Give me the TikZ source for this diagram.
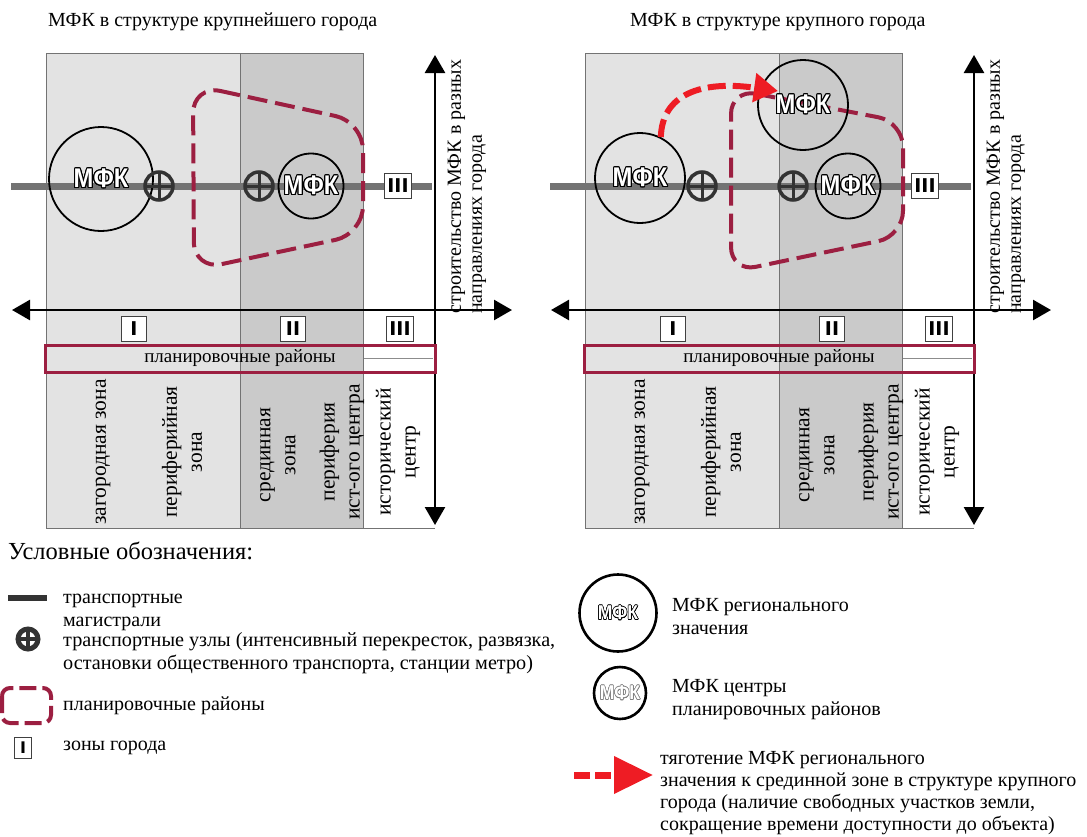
\documentclass[tikz,border=0pt]{standalone}
\usepackage{fontspec}
\setmainfont{Liberation Serif}
\newfontfamily\mfkfont{Liberation Sans}
\newfontfamily\rimfont{DejaVu Sans}
\usepackage{graphicx}
\usepackage[copies]{contour}
\contourlength{1.2pt}
\usetikzlibrary{arrows.meta, positioning}
\usepackage{xcolor}

\definecolor{zonaSvet}{HTML}{E3E3E3}
\definecolor{zonaTemn}{HTML}{CACACA}
\definecolor{rajonKr}{HTML}{9C1F41}
\definecolor{magistral}{HTML}{737373}
\definecolor{uzelC}{HTML}{333333}
\definecolor{tyagKr}{HTML}{EE1C24}

\newcommand{\mfk}{\scalebox{0.88}[1]{\contour{black}{МФК}}}
\newcommand{\mfkmal}[1]{{\contourlength{0.6pt}\scalebox{0.88}[1]{\contour{#1}{МФК}}}}

\begin{document}
\begin{tikzpicture}[
    x=1pt, y=-1pt,
    every node/.style={font=\fontsize{20}{23}\selectfont},
    tekst/.style={anchor=west, align=left, inner sep=0pt},
    ramka/.style={draw=black!55, line width=0.8pt},
    os/.style={
        {Triangle[length=18pt,width=20pt]}-{Triangle[length=18pt,width=20pt]},
        line width=2.6pt
    },
    magistr/.style={draw=magistral, line width=7pt},
    mfkreg/.style={
        circle,
        draw,
        line width=1.8pt,
        minimum size=104pt,
        inner sep=0pt,
        text=white,
        font=\mfkfont\bfseries\fontsize{27}{27}\selectfont
    },
    mfkcentr/.style={mfkreg, minimum size=65pt},
    uzel/.style={
        circle,
        draw=uzelC,
        line width=3.5pt,
        minimum size=28pt,
        inner sep=0pt,
        path picture={
            \draw[uzelC, line width=3pt]
                (path picture bounding box.north) -- (path picture bounding box.south)
                (path picture bounding box.west) -- (path picture bounding box.east);
        }
    },
    zonabox/.style={
        rectangle,
        draw=black!75,
        fill=white,
        line width=1pt,
        minimum width=25pt,
        minimum height=25pt,
        inner sep=0pt,
        font=\rimfont\bfseries\fontsize{19}{19}\selectfont
    },
    rajon/.style={
        draw=rajonKr,
        line width=4pt,
        dash pattern=on 20pt off 8pt,
        rounded corners=28pt
    },
    planrajon/.style={
        rectangle,
        draw=rajonKr,
        line width=3pt,
        minimum width=390pt,
        minimum height=27pt,
        inner sep=0pt,
        font=\fontsize{19}{21}\selectfont
    },
    vert/.style={rotate=90, align=center, font=\fontsize{21.5}{25}\selectfont},
    osnadpis/.style={rotate=90, anchor=west, align=left, inner sep=0pt, font=\fontsize{20}{21}\selectfont},
    tyag/.style={
        draw=tyagKr,
        line width=6pt,
        dash pattern=on 18pt off 7pt,
        -{Triangle[length=24pt,width=28pt]}
    }
]
\useasboundingbox (0,0) rectangle (1087,836);

% ---------- МФК в структуре крупнейшего города ----------
\node[tekst] (titleL) at (48,22) {МФК в структуре крупнейшего города};

% зоны
\fill[zonaSvet] (46,53) rectangle (240,528);
\fill[zonaTemn] (240,53) rectangle (363,528);
\draw[ramka] (46,528) -- (46,53) -- (363,53) -- (363,528);
\draw[ramka] (240,53) -- (240,528);
\draw[ramka] (46,528) -- (435,528);

% магистраль
\coordinate (magL1) at (11,186);
\coordinate (magL2) at (432,186);
\draw[magistr] (magL1) -- (magL2);

% планировочный район
\draw[rajon] (193,85) -- (363,122) -- (363,234) -- (194,270) -- cycle;

\node[mfkreg] (mfkL) at (101,179) {\mfk};
\node[uzel] (uzelL1) at (159,186) {};
\node[uzel] (uzelL2) at (259,186) {};
\node[mfkcentr] (centrL) at (311,186) {\mfk};
\node[zonabox, minimum width=27pt] (zonaL3m) at (398,186) {III};

% оси
\coordinate (osL1) at (12,310);
\coordinate (osL2) at (512,310);
\coordinate (osL3) at (435,525);
\coordinate (osL4) at (435,55);
\draw[os] (osL1) -- (osL2);
\draw[os] (osL3) -- (osL4);
\node[osnadpis] (osnL) at (467,314) {строительство МФК в разных\\направлениях города};

\node[zonabox] (zonaL1) at (134,329) {I};
\node[zonabox] (zonaL2) at (293,329) {II};
\node[zonabox, minimum width=27pt] (zonaL3) at (400,329) {III};

\node[planrajon] (planL) at (240,358.5) {планировочные районы};
\draw[black!45, line width=0.6pt] (364,358) -- (433,358);

\node[vert] (zagL) at (103,452) {загородная зона};
\node[vert] (perL) at (182,452) {периферийная\\зона};
\node[vert] (sredL) at (278,455) {срединная\\зона};
\node[vert] (perIstL) at (342,452) {периферия\\ист-ого центра};
\node[vert] (istL) at (398,452) {исторический\\центр};

% ---------- МФК в структуре крупного города ----------
\node[tekst] (titleR) at (630,22) {МФК в структуре крупного города};

\fill[zonaSvet] (585,53) rectangle (779,528);
\fill[zonaTemn] (779,53) rectangle (902,528);
\draw[ramka] (585,528) -- (585,53) -- (902,53) -- (902,528);
\draw[ramka] (779,53) -- (779,528);
\draw[ramka] (585,528) -- (974,528);

\coordinate (magR1) at (550,186);
\coordinate (magR2) at (971,186);
\draw[magistr] (magR1) -- (magR2);

\draw[rajon, rounded corners=25pt] (731,89) -- (903,122) -- (903,236) -- (731,272) -- cycle;

\node[mfkreg, minimum size=90pt] (mfkR) at (640,178) {\mfk};
\node[uzel] (uzelR1) at (702,186) {};
\node[uzel] (uzelR2) at (793,186) {};
\node[mfkcentr] (centrR) at (848,186) {\mfk};
\node[mfkreg, minimum size=90pt] (mfkRv) at (803,105) {\mfk};
\node[zonabox, minimum width=27pt] (zonaR3m) at (925,186) {III};

% тяготение
\coordinate (tyagKon) at (778,91);
\draw[tyag] (mfkR.63) .. controls (662,95) and (700,80) .. (tyagKon);

\coordinate (osR1) at (551,310);
\coordinate (osR2) at (1051,310);
\coordinate (osR3) at (974,525);
\coordinate (osR4) at (974,55);
\draw[os] (osR1) -- (osR2);
\draw[os] (osR3) -- (osR4);
\node[osnadpis] (osnR) at (1006,314) {строительство МФК в разных\\направлениях города};

\node[zonabox] (zonaR1) at (673,329) {I};
\node[zonabox] (zonaR2) at (832,329) {II};
\node[zonabox, minimum width=27pt] (zonaR3) at (939,329) {III};

\node[planrajon] (planR) at (779,358.5) {планировочные районы};
\draw[black!45, line width=0.6pt] (903,358) -- (972,358);

\node[vert] (zagR) at (642,452) {загородная зона};
\node[vert] (perR) at (721,452) {периферийная\\зона};
\node[vert] (sredR) at (817,455) {срединная\\зона};
\node[vert] (perIstR) at (881,452) {периферия\\ист-ого центра};
\node[vert] (istR) at (937,452) {исторический\\центр};

% ---------- Условные обозначения ----------
\node[tekst, font=\fontsize{24.5}{27}\selectfont] (uslovn) at (8,551) {Условные обозначения:};

\coordinate (legMag1) at (8,598);
\coordinate (legMag2) at (47,598);
\draw[uzelC, line width=6pt] (legMag1) -- (legMag2);
\node[tekst] (legMagT) at (63,612) {транспортные\\магистрали};

\node[uzel, minimum size=20pt, line width=5pt,
      path picture={\draw[uzelC, line width=4.5pt]
        (path picture bounding box.north) -- (path picture bounding box.south)
        (path picture bounding box.west) -- (path picture bounding box.east);}]
    (legUzel) at (28,639) {};
\node[tekst, font=\fontsize{20.2}{23}\selectfont] (legUzelT) at (63,653)
    {транспортные узлы (интенсивный перекресток, развязка,\\остановки общественного транспорта, станции метро)};

\draw[rajon, rounded corners=8pt, dash pattern=on 17pt off 6pt] (2,688) rectangle (51,723);
\node[tekst] (legRajT) at (63,706) {планировочные районы};

\node[zonabox, minimum width=17pt, minimum height=21pt, font=\rimfont\bfseries\fontsize{16}{16}\selectfont] (legZona) at (23,748) {I};
\node[tekst] (legZonaT) at (63,748) {зоны города};

\node[mfkreg, minimum size=77pt, line width=2.6pt, font=\mfkfont\bfseries\fontsize{20}{20}\selectfont] (legMfk) at (618,613) {\mfkmal{black}};
\node[tekst] (legMfkT) at (672,617) {МФК регионального\\значения};

\node[mfkreg, minimum size=52pt, line width=2.6pt, font=\mfkfont\bfseries\fontsize{20}{20}\selectfont] (legCentr) at (620,693) {\mfkmal{gray}};
\node[tekst] (legCentrT) at (672,700) {МФК центры\\планировочных районов};

\coordinate (legTyag1) at (574,775);
\coordinate (legTyag2) at (653,775);
\draw[tyag, line width=7pt, dash pattern=on 16pt off 5pt, -{Triangle[length=39pt,width=36pt]}] (legTyag1) -- (legTyag2);
\node[tekst, font=\fontsize{20}{22}\selectfont] (legTyagT) at (660,793)
    {тяготение МФК регионального\\значения к срединной зоне в структуре крупного\\города (наличие свободных участков земли,\\сокращение времени доступности до объекта)};

\end{tikzpicture}
\end{document}
